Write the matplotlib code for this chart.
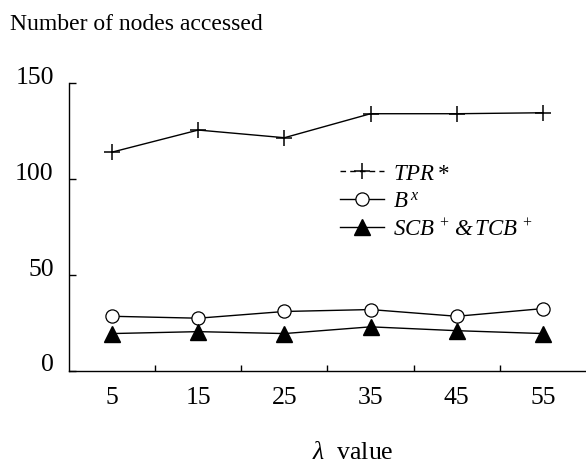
import matplotlib
matplotlib.use("Agg")
import matplotlib.pyplot as plt
import matplotlib.transforms as mtransforms
from matplotlib.lines import Line2D

plt.rcParams['font.family'] = ['Liberation Serif', 'DejaVu Serif']
plt.rcParams['mathtext.fontset'] = 'custom'
plt.rcParams['mathtext.rm'] = 'Liberation Serif'
plt.rcParams['mathtext.it'] = 'Liberation Serif:italic'
plt.rcParams['mathtext.bf'] = 'Liberation Serif:bold'

# lambda values (x categories)
lambda_values = ["5", "15", "25", "35", "45", "55"]

# number of nodes accessed per method
tpr_star = [114, 125.5, 121.5, 134, 134, 134.5]
b_x = [28.5, 27.5, 31, 32, 28.5, 32.5]
scb_tcb = [19.5, 20.5, 19.5, 23, 21, 19.5]

y_ticks = [0, 50, 100, 150]

fig = plt.figure(figsize=(5.86, 4.64), dpi=100)
ax = fig.add_axes([69 / 586, 1 - 372 / 464, 1 - 69 / 586, (372 - 84) / 464])

x = list(range(len(lambda_values)))
lw = 1.0
ax.plot(x, tpr_star, color='black', lw=lw, marker='+', markersize=11, markeredgewidth=1.1)
ax.plot(x, b_x, color='black', lw=lw, marker='o', markersize=9.5,
        markerfacecolor='white', markeredgecolor='black', markeredgewidth=0.9)
ax.plot(x, scb_tcb, color='black', lw=lw, marker='^', markersize=11,
        markerfacecolor='black', markeredgecolor='black')

ax.set_xlim(-0.5, len(lambda_values) - 0.5)
ax.set_ylim(0, 150)

for side in ('top', 'right'):
    ax.spines[side].set_visible(False)
for side in ('left', 'bottom'):
    ax.spines[side].set_linewidth(1.0)

# category labels at centres, small inward ticks on the boundaries
ax.set_xticks(x)
ax.set_xticklabels(lambda_values)
ax.set_xticks([i + 0.5 for i in x[:-1]], minor=True)
ax.tick_params(axis='x', which='major', length=0, pad=11, labelsize=18.5)
ax.tick_params(axis='x', which='minor', direction='in', length=4, width=1.0)

ax.set_yticks(y_ticks)
ax.set_yticklabels([str(v) for v in y_ticks])
ax.tick_params(axis='y', which='major', direction='in', length=5, width=1.0,
               pad=11, labelsize=18.5)
offset = mtransforms.ScaledTranslation(0, 9 / 100, fig.dpi_scale_trans)
for lab in ax.get_yticklabels():
    lab.set_transform(lab.get_transform() + offset)

handles = [
    Line2D([], [], color='black', lw=lw, ls=(0, (4, 3)), marker='+',
           markersize=11, markeredgewidth=1.1),
    Line2D([], [], color='black', lw=lw, marker='o', markersize=9.5,
           markerfacecolor='white', markeredgecolor='black', markeredgewidth=0.9),
    Line2D([], [], color='black', lw=lw, marker='^', markersize=11,
           markerfacecolor='black'),
]
labels = [r'$TPR\,$*', r'$B^{\,x}$', r'$SCB^{\,+}\,$&$\,TCB^{\,+}$']
leg = ax.legend(handles, labels, loc='upper left',
                bbox_to_anchor=((340 - 69) / (586 - 69), (372 - 164) / (372 - 84)),
                frameon=False, prop={'size': 16.5, 'style': 'italic'},
                handlelength=1.9, handletextpad=0.4,
                labelspacing=0.3, borderaxespad=0, borderpad=0)

fig.text(10 / 586, 1 - 25 / 464, 'Number of nodes accessed', fontsize=17,
         ha='left', va='center')
fig.text(353 / 586, 1 - 453 / 464, r'$\lambda$  value', fontsize=18.5,
         ha='center', va='center')

fig.savefig('out.png', dpi=100)
